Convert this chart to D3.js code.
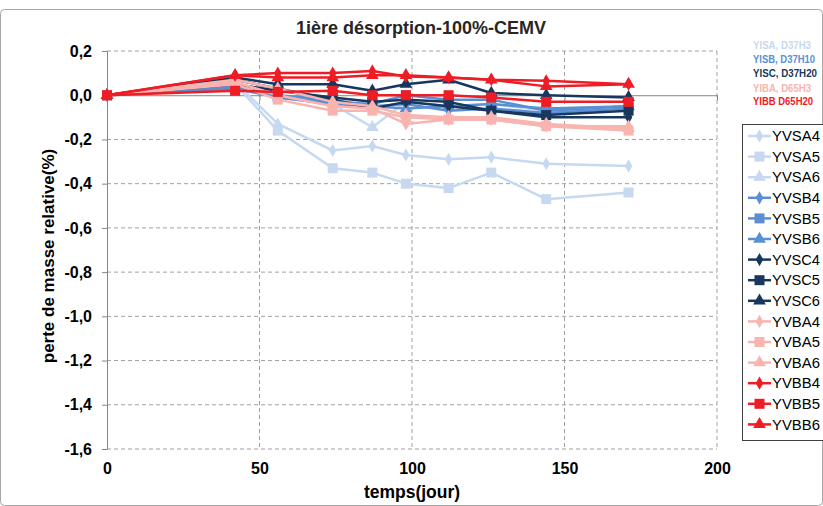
<!DOCTYPE html>
<html><head><meta charset="utf-8">
<script src="https://cdn.jsdelivr.net/npm/d3@7"></script>
<style>body{margin:0;background:#fff;}svg{display:block;font-family:"Liberation Sans",Arial,sans-serif;}</style>
</head><body><svg id="c" width="823" height="506"></svg>
<script>
const days = [0, 42, 56, 74, 87, 98, 112, 126, 144, 171];
const seriesNames = ["YVSA4","YVSA5","YVSA6","YVSB4","YVSB5","YVSB6","YVSC4","YVSC5","YVSC6","YVBA4","YVBA5","YVBA6","YVBB4","YVBB5","YVBB6"];
const YVSA4 = [0, 0.06, -0.13, -0.25, -0.23, -0.27, -0.29, -0.28, -0.31, -0.32];
const YVSA5 = [0, 0.05, -0.16, -0.33, -0.35, -0.40, -0.42, -0.35, -0.47, -0.44];
const YVSA6 = [0, 0.04, -0.01, -0.04, -0.145, -0.03, -0.05, -0.04, -0.07, -0.05];
const YVSB4 = [0, 0.04, -0.01, -0.04, -0.05, -0.04, -0.07, -0.06, -0.08, -0.06];
const YVSB5 = [0, 0.03, -0.01, -0.03, -0.04, 0.00, -0.02, -0.02, -0.07, -0.05];
const YVSB6 = [0, 0.04, 0.00, -0.02, -0.05, -0.06, -0.05, -0.04, -0.06, -0.05];
const YVSC4 = [0, 0.07, 0.03, -0.02, -0.06, -0.03, -0.05, -0.07, -0.10, -0.10];
const YVSC5 = [0, 0.05, 0.02, -0.01, -0.03, -0.02, -0.03, -0.07, -0.09, -0.07];
const YVSC6 = [0, 0.08, 0.05, 0.05, 0.02, 0.05, 0.07, 0.01, 0.00, -0.01];
const YVBA4 = [0, 0.06, 0.00, -0.05, -0.06, -0.13, -0.11, -0.11, -0.14, -0.14];
const YVBA5 = [0, 0.05, -0.02, -0.07, -0.07, -0.10, -0.11, -0.11, -0.14, -0.16];
const YVBA6 = [0, 0.07, 0.03, -0.03, -0.05, -0.09, -0.10, -0.10, -0.13, -0.15];
const YVBB4 = [0, 0.09, 0.10, 0.10, 0.11, 0.085, 0.08, 0.07, 0.065, 0.05];
const YVBB5 = [0, 0.02, 0.015, 0.02, 0.00, 0.00, 0.00, -0.01, -0.03, -0.03];
const YVBB6 = [0, 0.09, 0.08, 0.08, 0.09, 0.09, 0.08, 0.07, 0.04, 0.05];
const seriesValues = [YVSA4,YVSA5,YVSA6,YVSB4,YVSB5,YVSB6,YVSC4,YVSC5,YVSC6,YVBA4,YVBA5,YVBA6,YVBB4,YVBB5,YVBB6];
const xTicks = [0, 50, 100, 150, 200];
const yTicks = [0.2, 0, -0.2, -0.4, -0.6, -0.8, -1.0, -1.2, -1.4, -1.6];
const noteLabels = ["YISA, D37H3","YISB, D37H10","YISC, D37H20","YIBA, D65H3","YIBB D65H20"];
const groupColors = ["#c6d9f0","#5a8fd3","#17375e","#f9b4b0","#ee1d25"];
const markerTypes = ["diamond","square","triangle"];

const svg = d3.select("#c");
const x = d3.scaleLinear().domain([0,200]).range([107,717]);
const y = d3.scaleLinear().domain([-1.6,0.2]).range([449,51]);

svg.append("rect").attr("x",0.5).attr("y",9.5).attr("width",822).attr("height",496).attr("rx",4)
  .attr("fill","#fff").attr("stroke","#a6a6a6");

// gridlines
svg.append("g").selectAll("line").data(yTicks.filter(d=>d!==0)).join("line")
  .attr("x1",x(0)).attr("x2",x(200)).attr("y1",d=>y(d)).attr("y2",d=>y(d))
  .attr("stroke","#a0a0a0").attr("stroke-dasharray","4,3");
svg.append("g").selectAll("line").data(xTicks.filter(d=>d!==0)).join("line")
  .attr("x1",d=>x(d)).attr("x2",d=>x(d)).attr("y1",y(0.2)).attr("y2",y(-1.6))
  .attr("stroke","#a0a0a0").attr("stroke-dasharray","4,3");

// axes
const yAxis = svg.append("g").attr("transform",`translate(${x(0)},0)`)
  .call(d3.axisLeft(y).tickValues(yTicks).tickSize(5).tickFormat(d=>d3.format(".1f")(d).replace(".",",").replace("−","-")));
yAxis.select(".domain").attr("stroke","#868686");
yAxis.selectAll(".tick line").attr("stroke","#868686");
yAxis.selectAll("text").attr("font-size",16).attr("font-weight","bold").attr("fill","#000").attr("font-family","Liberation Sans, Arial").attr("x",-15);

const xAxis = svg.append("g").attr("transform",`translate(0,${y(0)})`)
  .call(d3.axisBottom(x).tickValues(xTicks).tickSize(5).tickFormat(d3.format("d")));
xAxis.select(".domain").attr("stroke","#868686");
xAxis.selectAll(".tick line").attr("stroke","#868686");
xAxis.selectAll("text").attr("font-size",16).attr("font-weight","bold").attr("fill","#000")
  .attr("font-family","Liberation Sans, Arial").attr("y",y(-1.6)-y(0)+14).attr("dy","0.71em");

// titles
svg.append("text").attr("x",421).attr("y",34).attr("text-anchor","middle").attr("font-size",18).attr("font-weight","bold").attr("fill","#262626").text("1ière désorption-100%-CEMV");
svg.append("text").attr("x",412).attr("y",498).attr("text-anchor","middle").attr("font-size",17.5).attr("font-weight","bold").text("temps(jour)");
svg.append("text").attr("transform","translate(54,256) rotate(-90)").attr("text-anchor","middle").attr("font-size",17).attr("font-weight","bold").text("perte de masse relative(%)");

function markerPath(t){
  if(t==="diamond") return d3.symbol(d3.symbolDiamond,50)();
  if(t==="square") return d3.symbol(d3.symbolSquare,100)();
  return d3.symbol(d3.symbolTriangle,70)();
}

const line = d3.line().x((d,i)=>x(days[i])).y(d=>y(d));
seriesNames.forEach((name,k)=>{
  const col = groupColors[Math.floor(k/3)];
  const mt = markerTypes[k%3];
  const g = svg.append("g");
  g.append("path").attr("d",line(seriesValues[k])).attr("fill","none").attr("stroke",col).attr("stroke-width",2.5).attr("stroke-linejoin","round");
  g.selectAll("path.m").data(seriesValues[k]).join("path").attr("class","m")
    .attr("transform",(d,i)=>`translate(${x(days[i])},${y(d)})`).attr("d",markerPath(mt)).attr("fill",col);
});

// legend
const lg = svg.append("g");
lg.append("rect").attr("x",742.5).attr("y",124.5).attr("width",85).attr("height",316).attr("fill","#fff").attr("stroke","#404040");
seriesNames.forEach((name,k)=>{
  const col = groupColors[Math.floor(k/3)];
  const mt = markerTypes[k%3];
  const yy = 136 + k*20.6;
  lg.append("line").attr("x1",748).attr("x2",771).attr("y1",yy).attr("y2",yy).attr("stroke",col).attr("stroke-width",2.5);
  lg.append("path").attr("transform",`translate(759.5,${yy})`).attr("d",markerPath(mt)).attr("fill",col);
  lg.append("text").attr("x",772).attr("y",yy).attr("dy","0.35em").attr("font-size",15).attr("textLength",48).attr("lengthAdjust","spacingAndGlyphs").attr("fill","#000").text(name);
});

// notes
noteLabels.forEach((t,k)=>{
  svg.append("text").attr("x",753).attr("y",[49,63,77,92,105][k]).attr("font-size",10.5).attr("font-weight","bold")
    .attr("font-family","Liberation Sans, Arial").attr("fill",groupColors[k])
    .attr("textLength",[58,62,64,58,60][k]).attr("lengthAdjust","spacingAndGlyphs").text(t);
});
</script></body></html>
